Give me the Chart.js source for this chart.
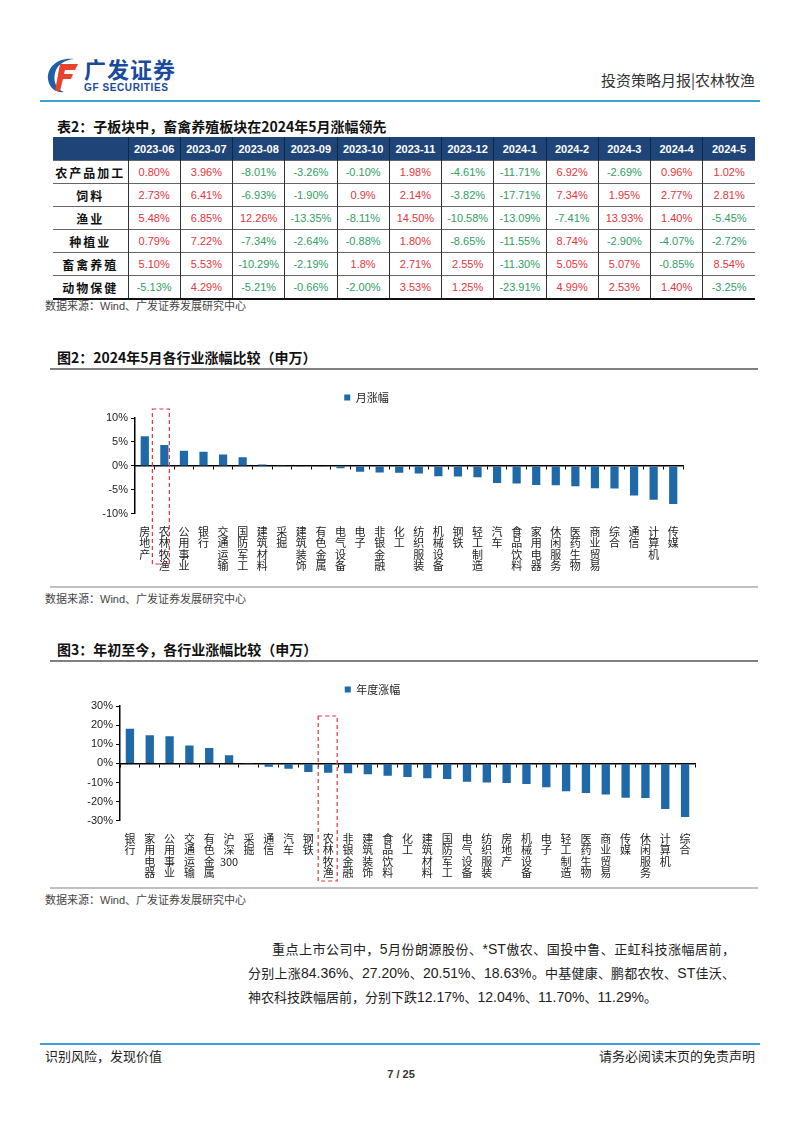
<!DOCTYPE html>
<html>
<head>
<meta charset="utf-8">
<script src="https://cdn.jsdelivr.net/npm/chart.js"></script>
<style>
body{margin:0;width:802px;height:1133px;position:relative;background:#fff;font-family:"Noto Sans CJK SC","Liberation Sans",sans-serif;color:#222;overflow:hidden}
.abs{position:absolute}
.hline{position:absolute;height:2px}
.title{position:absolute;left:57px;font-size:14px;font-weight:bold;color:#111;line-height:18px}
.src{position:absolute;left:45px;font-size:11px;color:#444;line-height:14px}
.src span{font-family:"Liberation Sans",sans-serif}
table{border-collapse:collapse;table-layout:fixed;font-family:"Liberation Sans",sans-serif;font-size:11px}
th{background:#1f4478;color:#fff;font-weight:bold;height:23px;padding:0;border-left:1px solid #0c2648}
td{height:22px;padding:0;text-align:center;border-top:1px solid #666;border-left:1px solid #333}
td.name{font-family:"Noto Sans CJK SC",sans-serif;font-weight:bold;font-size:12px;letter-spacing:2px;color:#111;border-left:none}
th:first-child{border-left:none}
tr:last-child td{border-bottom:2px solid #111}
.para{position:absolute;left:248px;width:487px;font-size:13px;line-height:24px;color:#222}
.para div{white-space:nowrap;text-align:justify;text-align-last:justify}
.para div.first{text-indent:24px}
.para div.last{text-align-last:left}
.num{font-family:"Liberation Sans",sans-serif;font-size:14px}
</style>
</head>
<body>

<!-- header -->
<svg class="abs" style="left:44px;top:55px" width="40" height="40" viewBox="0 0 40 40">
  <path d="M30 4 C14 2 3 12 4 24 C5 33 12 38 20 37 C12 34 9 26 11 18 C13 10 20 5 30 4 Z" fill="#1f5fa8"/>
  <path d="M16 9 L34 9 L31 15 L21 15 L20 19 L29 19 L27 24 L19 24 L16 36 L11 36 Z" fill="#e8412c"/>
</svg>
<div class="abs" style="left:84px;top:55px;font-size:22px;font-weight:bold;color:#1b4a9c;line-height:26px;letter-spacing:1px">广发证券</div>
<div class="abs" style="left:84px;top:82px;font-size:10px;font-weight:bold;color:#1b4a9c;line-height:12px;letter-spacing:0.6px;font-family:'Liberation Sans',sans-serif">GF SECURITIES</div>
<div class="abs" style="right:47px;top:70px;font-size:15px;color:#333;line-height:20px">投资策略月报|农林牧渔</div>
<div class="hline" style="left:40px;top:100px;width:720px;background:#3f9fd8"></div>

<!-- table -->
<div class="title" style="top:117px">表2：子板块中，畜禽养殖板块在2024年5月涨幅领先</div>
<table class="abs" id="tbl" style="left:53px;top:137px;width:702px"></table>
<div class="src" style="top:298px">数据来源：<span>Wind</span>、广发证券发展研究中心</div>

<!-- figure 2 -->
<div class="title" style="top:348px">图2：2024年5月各行业涨幅比较（申万）</div>
<div class="hline" style="left:50px;top:368px;width:708px;background:#808080"></div>
<div class="abs" style="left:50px;top:384px;width:650px;height:192px"><canvas id="monthChart"></canvas></div>
<div class="hline" style="left:50px;top:586px;width:708px;background:#c0c0c0"></div>
<div class="src" style="top:591px">数据来源：<span>Wind</span>、广发证券发展研究中心</div>

<!-- figure 3 -->
<div class="title" style="top:640px">图3：年初至今，各行业涨幅比较（申万）</div>
<div class="hline" style="left:50px;top:660px;width:708px;background:#808080"></div>
<div class="abs" style="left:50px;top:676px;width:665px;height:207px"><canvas id="ytdChart"></canvas></div>
<div class="hline" style="left:50px;top:887px;width:708px;background:#c0c0c0"></div>
<div class="src" style="top:892px">数据来源：<span>Wind</span>、广发证券发展研究中心</div>

<!-- text -->
<div class="para" style="top:937px">
  <div class="first">重点上市公司中，<span class="num">5</span>月份朗源股份、<span class="num">*ST</span>傲农、国投中鲁、正虹科技涨幅居前，</div>
  <div>分别上涨<span class="num">84.36%</span>、<span class="num">27.20%</span>、<span class="num">20.51%</span>、<span class="num">18.63%</span>。中基健康、鹏都农牧、<span class="num">ST</span>佳沃、</div>
  <div class="last">神农科技跌幅居前，分别下跌<span class="num">12.17%</span>、<span class="num">12.04%</span>、<span class="num">11.70%</span>、<span class="num">11.29%</span>。</div>
</div>

<!-- footer -->
<div class="hline" style="left:40px;top:1043px;width:720px;background:#3f9fd8"></div>
<div class="abs" style="left:45px;top:1047px;font-size:13px;color:#222;line-height:18px">识别风险，发现价值</div>
<div class="abs" style="right:47px;top:1047px;font-size:13px;color:#222;line-height:18px">请务必阅读末页的免责声明</div>
<div class="abs" style="left:0;width:802px;top:1068px;text-align:center;font-size:11px;font-weight:bold;color:#333;font-family:'Liberation Sans',sans-serif">7 / 25</div>

<script>
// table 2 data (sub-sector monthly change, %)
const tableMonths = ['2023-06','2023-07','2023-08','2023-09','2023-10','2023-11','2023-12','2024-1','2024-2','2024-3','2024-4','2024-5'];
const tableRows = ['农产品加工','饲料','渔业','种植业','畜禽养殖','动物保健'];
const rowProcess = ['0.80','3.96','-8.01','-3.26','-0.10','1.98','-4.61','-11.71','6.92','-2.69','0.96','1.02'];
const rowFeed = ['2.73','6.41','-6.93','-1.90','0.9','2.14','-3.82','-17.71','7.34','1.95','2.77','2.81'];
const rowFishery = ['5.48','6.85','12.26','-13.35','-8.11','14.50','-10.58','-13.09','-7.41','13.93','1.40','-5.45'];
const rowPlanting = ['0.79','7.22','-7.34','-2.64','-0.88','1.80','-8.65','-11.55','8.74','-2.90','-4.07','-2.72'];
const rowLivestock = ['5.10','5.53','-10.29','-2.19','1.8','2.71','2.55','-11.30','5.05','5.07','-0.85','8.54'];
const rowAnimalHealth = ['-5.13','4.29','-5.21','-0.66','-2.00','3.53','1.25','-23.91','4.99','2.53','1.40','-3.25'];

// figure 2: May 2024 change by industry
const monthIndustries = ['房地产','农林牧渔','公用事业','银行','交通运输','国防军工','建筑材料','采掘','建筑装饰','有色金属','电气设备','电子','非银金融','化工','纺织服装','机械设备','钢铁','轻工制造','汽车','食品饮料','家用电器','休闲服务','医药生物','商业贸易','综合','通信','计算机','传媒'];
const monthChange = [6.2,4.35,3.15,2.95,2.4,1.8,0.3,0.05,-0.05,-0.2,-0.5,-1.2,-1.4,-1.45,-1.6,-2.15,-2.2,-2.35,-3.55,-3.7,-4.0,-4.05,-4.25,-4.65,-4.7,-6.2,-7.05,-7.95];
const monthTicks = [-10,-5,0,5,10];

// figure 3: YTD change by industry ("300" kept on one line)
const ytdIndustries = ['银行','家用电器','公用事业','交通运输','有色金属','沪深300','采掘','通信','汽车','钢铁','农林牧渔','非银金融','建筑装饰','食品饮料','化工','建筑材料','国防军工','电气设备','纺织服装','房地产','机械设备','电子','轻工制造','医药生物','商业贸易','传媒','休闲服务','计算机','综合'];
const ytdChange = [18.1,14.7,14.2,9.3,8.0,4.2,0.1,-1.7,-2.8,-4.5,-4.9,-5.2,-5.7,-6.4,-7.1,-7.7,-8.1,-9.6,-10.0,-10.3,-10.8,-12.4,-14.5,-15.5,-16.3,-18.0,-18.1,-23.8,-28.0];
const ytdTicks = [-30,-20,-10,0,10,20,30];

// build table
const tbl = document.getElementById('tbl');
const allRows = [rowProcess,rowFeed,rowFishery,rowPlanting,rowLivestock,rowAnimalHealth];
let html = '<colgroup><col style="width:75px">' + tableMonths.map(()=>'<col>').join('') + '</colgroup>';
html += '<tr><th></th>' + tableMonths.map(m=>'<th>'+m+'</th>').join('') + '</tr>';
tableRows.forEach((name,i)=>{
  html += '<tr><td class="name">'+name+'</td>';
  allRows[i].forEach(v=>{
    const c = parseFloat(v) < 0 ? '#2f9e5f' : '#e6343a';
    html += '<td style="color:'+c+'">'+v+'%</td>';
  });
  html += '</tr>';
});
tbl.innerHTML = html;

// split label into vertical characters, keep digit runs together
function vertical(s){
  return s.match(/\d+|./g);
}

// dashed box around 农林牧渔
const focusBox = {
  id:'focusBox',
  afterDraw(chart, args, opts){
    const xs = chart.scales.x;
    const cx = xs.getPixelForValue(opts.index);
    const top = chart.chartArea.top + opts.top;
    const bottom = chart.height - opts.bottom;
    const ctx = chart.ctx;
    ctx.save();
    ctx.strokeStyle = '#e6343a';
    ctx.lineWidth = 1.2;
    ctx.setLineDash([4,3]);
    ctx.strokeRect(cx + opts.left, top, opts.right - opts.left, bottom - top);
    ctx.restore();
  }
};

// extra space between legend and plot
const legendGap = {
  id:'legendGap',
  beforeInit(chart, args, opts){
    const lg = chart.legend;
    if(!lg) return;
    const fit = lg.fit;
    lg.fit = function(){ fit.call(this); this.height += opts.gap || 0; };
  }
};

function makeChart(id, labels, values, legend, ticks, yWidth, padRight, gap, box){
  const min = ticks[0], max = ticks[ticks.length-1];
  return new Chart(document.getElementById(id), {
    type:'bar',
    data:{
      labels: labels.map(vertical),
      datasets:[{
        label: legend,
        data: values,
        backgroundColor:'#1f69a8',
        barPercentage:0.42,
        categoryPercentage:1,
        xAxisID:'x'
      }]
    },
    options:{
      responsive:true,
      maintainAspectRatio:false,
      animation:false,
      devicePixelRatio:1,
      layout:{padding:{right:padRight, top:0, bottom:0}},
      plugins:{
        legend:{
          display:true,
          labels:{boxWidth:6, boxHeight:6, padding:8, color:'#222', font:{size:11, family:'"Noto Sans CJK SC"'}}
        },
        tooltip:{enabled:false},
        legendGap:{gap:gap},
        focusBox: box
      },
      scales:{
        x:{
          type:'category',
          position:{y:0},
          offset:true,
          grid:{display:true, drawOnChartArea:false, drawTicks:true, tickLength:3, color:'#000', offset:true},
          border:{color:'#000', width:1.5},
          ticks:{display:false}
        },
        x2:{
          type:'category',
          position:'bottom',
          offset:true,
          grid:{display:false},
          border:{display:false},
          ticks:{autoSkip:false, maxRotation:0, minRotation:0, padding:4, color:'#222',
                 font:{size:11, family:'"Noto Sans CJK SC"', lineHeight:1.05}}
        },
        y:{
          min:min, max:max,
          afterFit(s){ s.width = yWidth; },
          afterBuildTicks(s){ s.ticks = ticks.map(v=>({value:v})); },
          grid:{drawOnChartArea:false, drawTicks:true, tickLength:4, color:'#000'},
          border:{color:'#000', width:1.5},
          ticks:{color:'#222', padding:3, font:{size:11, family:'"Liberation Sans"'}, callback:v=>v+'%'}
        }
      }
    },
    plugins:[legendGap, focusBox]
  });
}

makeChart('monthChart', monthIndustries, monthChange, '月涨幅', monthTicks, 85, 17, 5,
  {index: monthIndustries.indexOf('农林牧渔'), top:-9, bottom:12, left:-12, right:5});
makeChart('ytdChart', ytdIndustries, ytdChange, '年度涨幅', ytdTicks, 70, 20, 1,
  {index: ytdIndustries.indexOf('农林牧渔'), top:10, bottom:2, left:-10, right:9});
</script>
</body>
</html>
